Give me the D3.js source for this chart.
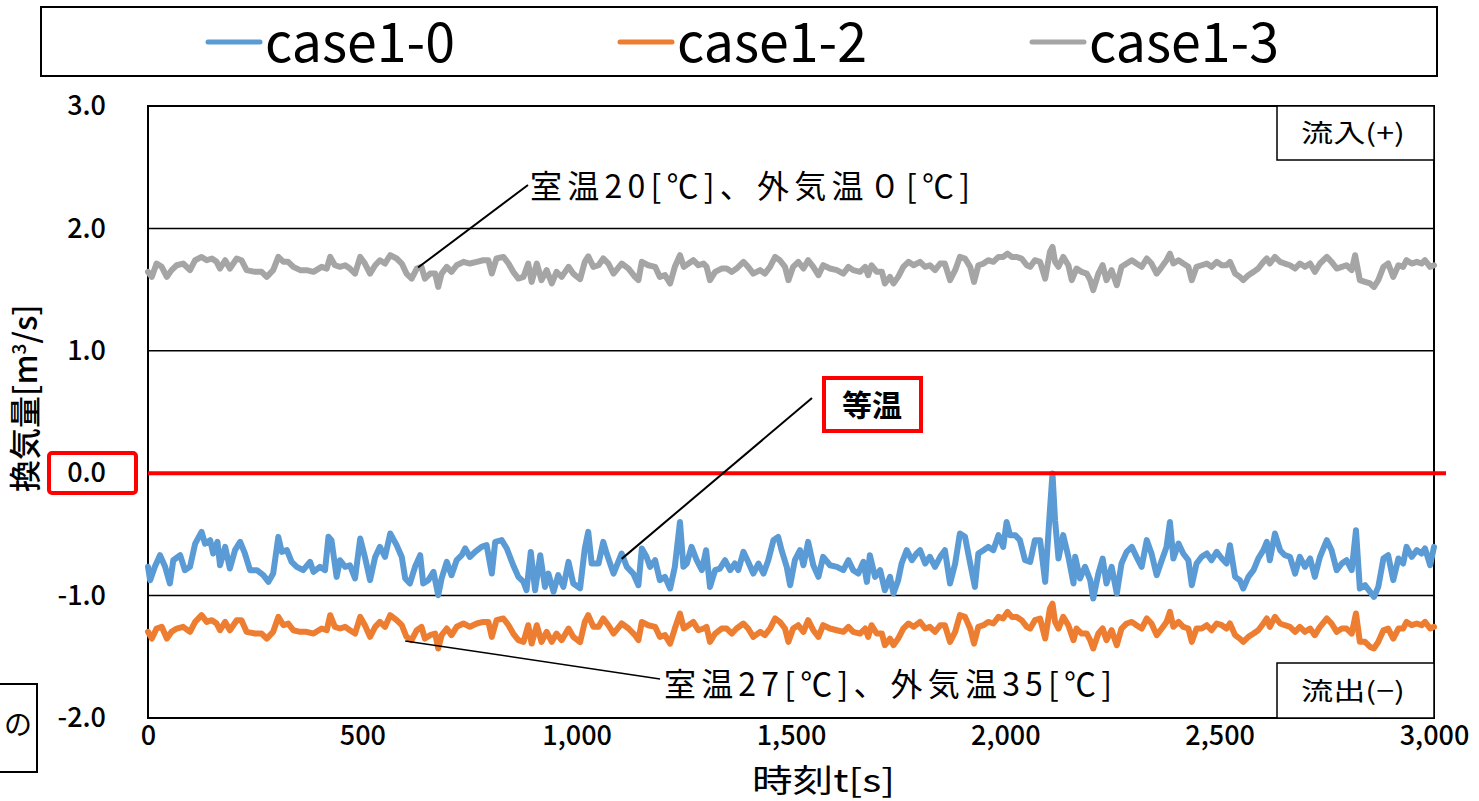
<!DOCTYPE html>
<html>
<head>
<meta charset="utf-8">
<script src="https://cdn.jsdelivr.net/npm/d3@7"></script>
<style>
  body { margin: 0; background: #fff; }
  text { font-family: "Noto Sans CJK JP", "Noto Sans", sans-serif; fill: #000; }
</style>
</head>
<body>
<div id="chart"></div>
<script>
// [time s, 換気量 m3/s]
var case10 = [[0,-0.765],[5,-0.874],[16,-0.765],[28,-0.670],[40,-0.765],[51,-0.901],[59,-0.711],[75,-0.670],[86,-0.792],[98,-0.765],[110,-0.575],[125,-0.479],[133,-0.575],[145,-0.547],[152,-0.656],[162,-0.561],[168,-0.752],[180,-0.602],[191,-0.779],[203,-0.629],[215,-0.561],[226,-0.656],[238,-0.792],[254,-0.792],[269,-0.833],[281,-0.888],[292,-0.820],[304,-0.520],[312,-0.643],[324,-0.629],[335,-0.724],[347,-0.765],[362,-0.792],[378,-0.724],[386,-0.806],[401,-0.765],[413,-0.792],[421,-0.520],[428,-0.547],[440,-0.847],[448,-0.711],[460,-0.765],[471,-0.752],[483,-0.860],[495,-0.534],[506,-0.684],[518,-0.874],[530,-0.684],[541,-0.602],[553,-0.684],[565,-0.493],[580,-0.588],[592,-0.684],[600,-0.860],[611,-0.901],[623,-0.765],[635,-0.670],[642,-0.901],[654,-0.874],[666,-0.806],[677,-0.997],[685,-0.860],[697,-0.724],[708,-0.833],[720,-0.711],[732,-0.670],[740,-0.615],[751,-0.684],[763,-0.643],[778,-0.602],[790,-0.588],[802,-0.820],[810,-0.561],[825,-0.547],[837,-0.615],[852,-0.752],[864,-0.847],[876,-0.888],[883,-0.956],[893,-0.643],[903,-0.956],[915,-0.670],[926,-0.929],[934,-0.820],[946,-0.969],[957,-0.833],[969,-0.929],[981,-0.724],[992,-0.901],[1008,-0.940],[1019,-0.615],[1027,-0.479],[1035,-0.738],[1051,-0.738],[1062,-0.561],[1070,-0.656],[1086,-0.820],[1105,-0.656],[1117,-0.765],[1132,-0.820],[1144,-0.915],[1152,-0.615],[1163,-0.683],[1171,-0.765],[1183,-0.711],[1194,-0.874],[1206,-0.847],[1218,-0.942],[1229,-0.765],[1241,-0.398],[1249,-0.765],[1257,-0.738],[1268,-0.602],[1280,-0.711],[1292,-0.792],[1302,-0.629],[1311,-0.929],[1323,-0.792],[1334,-0.779],[1346,-0.711],[1358,-0.792],[1369,-0.738],[1377,-0.792],[1389,-0.643],[1400,-0.724],[1412,-0.820],[1424,-0.738],[1436,-0.820],[1447,-0.711],[1459,-0.547],[1470,-0.520],[1478,-0.629],[1490,-0.765],[1498,-0.915],[1509,-0.711],[1521,-0.629],[1529,-0.752],[1540,-0.561],[1552,-0.752],[1564,-0.847],[1575,-0.683],[1591,-0.752],[1607,-0.765],[1622,-0.792],[1634,-0.711],[1645,-0.792],[1657,-0.820],[1669,-0.724],[1677,-0.888],[1684,-0.670],[1696,-0.847],[1708,-0.792],[1719,-0.956],[1731,-0.847],[1739,-0.983],[1750,-0.874],[1758,-0.738],[1770,-0.629],[1782,-0.711],[1793,-0.656],[1801,-0.629],[1813,-0.738],[1824,-0.683],[1836,-0.765],[1848,-0.683],[1859,-0.629],[1871,-0.901],[1883,-0.738],[1894,-0.493],[1906,-0.520],[1918,-0.738],[1929,-0.929],[1937,-0.656],[1949,-0.629],[1960,-0.602],[1972,-0.629],[1984,-0.506],[1995,-0.602],[2003,-0.398],[2011,-0.506],[2023,-0.506],[2034,-0.547],[2046,-0.711],[2058,-0.724],[2069,-0.547],[2081,-0.547],[2093,-0.888],[2104,-0.302],[2110,-0.003],[2116,-0.384],[2124,-0.697],[2135,-0.506],[2147,-0.683],[2159,-0.901],[2163,-0.683],[2174,-0.860],[2186,-0.765],[2198,-0.874],[2205,-1.024],[2217,-0.820],[2227,-0.697],[2236,-0.901],[2248,-0.765],[2260,-0.983],[2271,-0.738],[2283,-0.643],[2295,-0.602],[2306,-0.683],[2318,-0.765],[2330,-0.547],[2341,-0.656],[2353,-0.833],[2365,-0.711],[2376,-0.602],[2384,-0.398],[2392,-0.697],[2404,-0.575],[2415,-0.656],[2427,-0.711],[2435,-0.915],[2446,-0.738],[2458,-0.683],[2470,-0.656],[2481,-0.711],[2493,-0.643],[2505,-0.697],[2516,-0.738],[2524,-0.588],[2536,-0.847],[2547,-0.874],[2555,-0.942],[2567,-0.847],[2579,-0.792],[2590,-0.697],[2602,-0.629],[2610,-0.561],[2617,-0.711],[2629,-0.493],[2641,-0.629],[2652,-0.670],[2664,-0.683],[2676,-0.820],[2687,-0.683],[2699,-0.765],[2711,-0.697],[2722,-0.847],[2734,-0.683],[2750,-0.547],[2761,-0.629],[2773,-0.792],[2785,-0.738],[2796,-0.711],[2808,-0.792],[2818,-0.466],[2827,-0.942],[2839,-0.915],[2851,-0.969],[2860,-1.010],[2870,-0.929],[2882,-0.697],[2893,-0.670],[2905,-0.874],[2917,-0.697],[2928,-0.738],[2936,-0.602],[2948,-0.683],[2960,-0.629],[2971,-0.656],[2979,-0.615],[2991,-0.752],[3000,-0.602]];

var case12 = [[0,-1.296],[9,-1.351],[20,-1.269],[32,-1.255],[44,-1.351],[55,-1.296],[67,-1.269],[82,-1.255],[98,-1.296],[110,-1.215],[125,-1.160],[137,-1.215],[149,-1.201],[160,-1.228],[168,-1.283],[180,-1.215],[191,-1.283],[207,-1.201],[218,-1.201],[230,-1.296],[250,-1.310],[265,-1.310],[277,-1.351],[292,-1.296],[304,-1.174],[316,-1.242],[327,-1.228],[339,-1.283],[355,-1.296],[370,-1.296],[386,-1.310],[405,-1.269],[417,-1.283],[425,-1.160],[436,-1.255],[448,-1.269],[460,-1.255],[471,-1.283],[483,-1.310],[495,-1.174],[506,-1.242],[518,-1.337],[530,-1.255],[541,-1.215],[553,-1.255],[565,-1.160],[580,-1.201],[592,-1.242],[603,-1.337],[615,-1.364],[627,-1.283],[638,-1.255],[646,-1.351],[658,-1.323],[670,-1.310],[677,-1.432],[685,-1.323],[697,-1.269],[708,-1.323],[720,-1.255],[736,-1.228],[751,-1.255],[767,-1.228],[782,-1.215],[794,-1.215],[802,-1.337],[813,-1.201],[829,-1.187],[841,-1.242],[852,-1.310],[864,-1.364],[876,-1.378],[887,-1.242],[895,-1.392],[907,-1.242],[918,-1.378],[930,-1.296],[942,-1.378],[953,-1.310],[965,-1.364],[981,-1.269],[992,-1.337],[1008,-1.380],[1019,-1.215],[1027,-1.160],[1039,-1.255],[1051,-1.255],[1062,-1.187],[1074,-1.242],[1086,-1.310],[1105,-1.228],[1121,-1.269],[1136,-1.323],[1144,-1.364],[1152,-1.215],[1167,-1.242],[1183,-1.255],[1194,-1.337],[1206,-1.323],[1218,-1.392],[1229,-1.269],[1241,-1.146],[1250,-1.269],[1261,-1.242],[1272,-1.215],[1284,-1.283],[1296,-1.269],[1303,-1.255],[1311,-1.378],[1323,-1.310],[1338,-1.269],[1350,-1.269],[1362,-1.310],[1373,-1.269],[1389,-1.228],[1400,-1.269],[1412,-1.337],[1428,-1.296],[1439,-1.323],[1451,-1.269],[1463,-1.187],[1474,-1.215],[1486,-1.269],[1494,-1.378],[1505,-1.269],[1517,-1.242],[1529,-1.296],[1540,-1.201],[1552,-1.283],[1564,-1.337],[1575,-1.242],[1591,-1.269],[1607,-1.283],[1622,-1.296],[1634,-1.255],[1645,-1.296],[1661,-1.310],[1673,-1.269],[1680,-1.337],[1688,-1.242],[1700,-1.310],[1712,-1.310],[1719,-1.405],[1731,-1.351],[1739,-1.405],[1750,-1.351],[1762,-1.269],[1774,-1.228],[1786,-1.255],[1801,-1.215],[1813,-1.269],[1824,-1.255],[1836,-1.296],[1848,-1.242],[1859,-1.242],[1871,-1.378],[1883,-1.296],[1894,-1.160],[1906,-1.174],[1918,-1.269],[1927,-1.392],[1937,-1.255],[1949,-1.242],[1960,-1.215],[1972,-1.228],[1984,-1.174],[1995,-1.187],[2005,-1.133],[2015,-1.174],[2026,-1.174],[2038,-1.201],[2050,-1.255],[2058,-1.269],[2069,-1.201],[2081,-1.187],[2093,-1.351],[2104,-1.106],[2110,-1.065],[2116,-1.215],[2124,-1.269],[2135,-1.174],[2147,-1.242],[2159,-1.364],[2166,-1.269],[2178,-1.310],[2190,-1.310],[2198,-1.364],[2205,-1.432],[2217,-1.310],[2227,-1.269],[2236,-1.364],[2248,-1.283],[2260,-1.405],[2271,-1.269],[2283,-1.228],[2295,-1.215],[2306,-1.242],[2318,-1.269],[2330,-1.187],[2341,-1.228],[2353,-1.323],[2365,-1.269],[2376,-1.215],[2384,-1.133],[2392,-1.255],[2404,-1.215],[2415,-1.255],[2427,-1.269],[2435,-1.378],[2446,-1.269],[2458,-1.269],[2470,-1.242],[2481,-1.283],[2493,-1.228],[2505,-1.242],[2516,-1.269],[2524,-1.228],[2536,-1.323],[2547,-1.351],[2555,-1.378],[2567,-1.337],[2579,-1.310],[2590,-1.283],[2602,-1.228],[2610,-1.187],[2617,-1.255],[2629,-1.174],[2641,-1.228],[2652,-1.242],[2664,-1.255],[2676,-1.296],[2687,-1.255],[2699,-1.296],[2711,-1.269],[2722,-1.323],[2734,-1.255],[2750,-1.187],[2761,-1.228],[2773,-1.296],[2785,-1.269],[2796,-1.269],[2808,-1.310],[2818,-1.146],[2827,-1.378],[2839,-1.378],[2851,-1.419],[2860,-1.432],[2870,-1.378],[2882,-1.283],[2893,-1.269],[2905,-1.351],[2917,-1.269],[2928,-1.269],[2936,-1.215],[2948,-1.242],[2960,-1.228],[2971,-1.242],[2979,-1.215],[2991,-1.269],[3000,-1.255]];

var case13 = [[0,1.645],[9,1.604],[20,1.713],[32,1.686],[44,1.604],[55,1.659],[67,1.699],[82,1.713],[98,1.659],[110,1.740],[125,1.767],[137,1.740],[149,1.754],[160,1.727],[168,1.672],[180,1.740],[191,1.672],[207,1.754],[218,1.740],[230,1.659],[250,1.645],[265,1.645],[277,1.604],[292,1.659],[304,1.767],[316,1.727],[327,1.727],[339,1.686],[355,1.659],[370,1.659],[386,1.645],[405,1.686],[417,1.672],[425,1.767],[436,1.699],[448,1.686],[460,1.699],[471,1.672],[483,1.631],[495,1.767],[506,1.713],[518,1.631],[530,1.699],[541,1.740],[553,1.713],[565,1.781],[580,1.754],[592,1.713],[603,1.631],[615,1.590],[627,1.672],[638,1.686],[646,1.590],[658,1.631],[670,1.631],[677,1.522],[685,1.631],[697,1.686],[708,1.645],[720,1.699],[736,1.727],[751,1.713],[767,1.727],[782,1.740],[794,1.740],[802,1.631],[813,1.754],[829,1.767],[841,1.713],[852,1.645],[864,1.590],[876,1.604],[887,1.713],[895,1.563],[907,1.713],[918,1.577],[930,1.659],[942,1.550],[953,1.645],[965,1.604],[981,1.686],[992,1.631],[1008,1.585],[1019,1.727],[1027,1.772],[1039,1.686],[1051,1.699],[1062,1.754],[1074,1.713],[1086,1.631],[1105,1.713],[1121,1.672],[1136,1.604],[1144,1.577],[1152,1.727],[1167,1.699],[1183,1.686],[1194,1.604],[1206,1.618],[1218,1.550],[1229,1.686],[1241,1.781],[1250,1.686],[1261,1.713],[1272,1.740],[1284,1.699],[1296,1.713],[1303,1.686],[1311,1.577],[1323,1.645],[1338,1.672],[1350,1.672],[1362,1.645],[1373,1.672],[1389,1.727],[1400,1.686],[1412,1.631],[1428,1.659],[1439,1.631],[1451,1.686],[1463,1.767],[1474,1.740],[1486,1.686],[1494,1.577],[1505,1.686],[1517,1.727],[1529,1.672],[1540,1.740],[1552,1.686],[1564,1.618],[1575,1.699],[1591,1.672],[1607,1.659],[1622,1.631],[1634,1.686],[1645,1.659],[1661,1.645],[1673,1.686],[1680,1.618],[1688,1.699],[1700,1.645],[1712,1.645],[1719,1.550],[1731,1.604],[1739,1.550],[1750,1.604],[1762,1.686],[1774,1.727],[1786,1.699],[1801,1.727],[1813,1.686],[1824,1.699],[1836,1.659],[1848,1.713],[1859,1.713],[1871,1.577],[1883,1.659],[1894,1.767],[1906,1.754],[1918,1.686],[1927,1.563],[1937,1.699],[1949,1.713],[1960,1.740],[1972,1.727],[1984,1.767],[1995,1.767],[2005,1.794],[2015,1.767],[2026,1.767],[2038,1.754],[2050,1.699],[2058,1.686],[2069,1.740],[2081,1.727],[2093,1.590],[2104,1.808],[2110,1.849],[2116,1.727],[2124,1.686],[2135,1.767],[2147,1.699],[2155,1.577],[2166,1.672],[2178,1.645],[2190,1.631],[2198,1.577],[2205,1.495],[2217,1.631],[2227,1.699],[2236,1.577],[2248,1.659],[2260,1.536],[2271,1.686],[2283,1.713],[2295,1.740],[2306,1.713],[2318,1.686],[2330,1.754],[2341,1.713],[2353,1.631],[2365,1.686],[2376,1.740],[2384,1.794],[2392,1.713],[2404,1.740],[2415,1.713],[2427,1.686],[2435,1.577],[2446,1.686],[2458,1.699],[2470,1.713],[2481,1.686],[2493,1.727],[2505,1.699],[2516,1.699],[2524,1.727],[2536,1.631],[2547,1.604],[2555,1.577],[2567,1.618],[2579,1.645],[2590,1.672],[2602,1.727],[2610,1.754],[2617,1.713],[2629,1.767],[2641,1.727],[2652,1.713],[2664,1.699],[2676,1.672],[2687,1.713],[2699,1.686],[2711,1.713],[2722,1.645],[2734,1.713],[2750,1.767],[2761,1.727],[2773,1.672],[2785,1.686],[2796,1.699],[2808,1.659],[2816,1.781],[2827,1.577],[2839,1.563],[2851,1.550],[2860,1.522],[2870,1.577],[2882,1.686],[2893,1.713],[2905,1.604],[2917,1.699],[2928,1.686],[2936,1.740],[2948,1.713],[2960,1.727],[2971,1.713],[2979,1.740],[2991,1.686],[3000,1.699]];

var seriesNames = ["case1-0", "case1-2", "case1-3"];
var seriesColors = ["#5b9bd5", "#ed7d31", "#a5a5a5"];
var xTicks = [0, 500, 1000, 1500, 2000, 2500, 3000];
var yTicks = [-2, -1, 0, 1, 2, 3];

var W = 1479, H = 801;
var svg = d3.select("#chart").append("svg")
    .attr("width", W)
    .attr("height", H);

var x = d3.scaleLinear().domain([0, 3000]).range([148, 1434]);
var y = d3.scaleLinear().domain([-2, 3]).range([718, 106]);

// legend box
svg.append("rect")
    .attr("x", 41).attr("y", 7).attr("width", 1396).attr("height", 69)
    .attr("fill", "#fff").attr("stroke", "#000").attr("stroke-width", 2);

var legX = [208, 620, 1032];
seriesNames.forEach(function(name, i) {
  svg.append("line")
      .attr("x1", legX[i]).attr("x2", legX[i] + 52)
      .attr("y1", 42).attr("y2", 42)
      .attr("stroke", seriesColors[i]).attr("stroke-width", 5)
      .attr("stroke-linecap", "round");
  svg.append("text")
      .attr("x", legX[i] + 57).attr("y", 62)
      .attr("font-size", 54)
      .attr("textLength", 190).attr("lengthAdjust", "spacingAndGlyphs")
      .text(name);
});

// grid lines (not 0 and borders)
svg.append("g").selectAll("line")
    .data(yTicks.filter(function(d) { return d === 1 || d === 2 || d === -1; }))
    .join("line")
    .attr("x1", x(0)).attr("x2", x(3000))
    .attr("y1", function(d) { return y(d); })
    .attr("y2", function(d) { return y(d); })
    .attr("stroke", "#000").attr("stroke-width", 1.5);

// plot border
svg.append("rect")
    .attr("x", x(0)).attr("y", y(3))
    .attr("width", x(3000) - x(0)).attr("height", y(-2) - y(3))
    .attr("fill", "none").attr("stroke", "#000").attr("stroke-width", 2);

// x axis labels
var xAxis = d3.axisBottom(x).tickValues(xTicks).tickSize(0).tickPadding(8)
    .tickFormat(d3.format(","));
var gx = svg.append("g").attr("transform", "translate(0," + y(-2) + ")").call(xAxis);
gx.select(".domain").remove();
gx.selectAll("text")
    .attr("font-size", 27)
    .attr("font-weight", 500)
    .style("font-family", "'Noto Sans CJK JP', sans-serif")
    .attr("fill", "#000");

// y axis labels
var yAxis = d3.axisLeft(y).tickValues(yTicks).tickSize(0).tickPadding(42)
    .tickFormat(function(d) { return d3.format(".1f")(d).replace("−", "-"); });
var gy = svg.append("g").attr("transform", "translate(" + x(0) + ",0)").call(yAxis);
gy.select(".domain").remove();
gy.selectAll("text")
    .attr("font-size", 27)
    .attr("font-weight", 500)
    .style("font-family", "'Noto Sans CJK JP', sans-serif")
    .attr("fill", "#000");

// series lines
var line = d3.line()
    .x(function(d) { return x(d[0]); })
    .y(function(d) { return y(d[1]); });

[case13, case12, case10].forEach(function(s, k) {
  var i = 2 - k;
  svg.append("path")
      .datum(s)
      .attr("d", line)
      .attr("fill", "none")
      .attr("stroke", seriesColors[i])
      .attr("stroke-width", 6)
      .attr("stroke-linejoin", "round")
      .attr("stroke-linecap", "round");
});

// red zero line
svg.append("line")
    .attr("x1", x(0)).attr("x2", 1446)
    .attr("y1", y(0)).attr("y2", y(0))
    .attr("stroke", "#ff0000").attr("stroke-width", 4);

// red box around 0.0 label
svg.append("rect")
    .attr("x", 49).attr("y", 453).attr("width", 87).attr("height", 40)
    .attr("rx", 3)
    .attr("fill", "none").attr("stroke", "#ff0000").attr("stroke-width", 4);

// axis titles
svg.append("text")
    .attr("x", 752).attr("y", 792)
    .attr("font-size", 32)
    .attr("textLength", 143).attr("lengthAdjust", "spacingAndGlyphs")
    .text("時刻t[s]");

svg.append("text")
    .attr("transform", "translate(37,492) rotate(-90)")
    .attr("font-size", 32)
    .attr("font-weight", 500)
    .html("換気量[m<tspan dy='-11' font-size='19'>3</tspan><tspan dy='11'>/s]</tspan>");

// inflow / outflow boxes
var boxes = [{ t: "流入(+)", y0: 106, y1: 160 }, { t: "流出(−)", y0: 663, y1: 718 }];
boxes.forEach(function(b) {
  svg.append("rect")
      .attr("x", 1277).attr("y", b.y0).attr("width", 157).attr("height", b.y1 - b.y0)
      .attr("fill", "#fff").attr("stroke", "#000").attr("stroke-width", 1.5);
  svg.append("text")
      .attr("x", 1301).attr("y", (b.y0 + b.y1) / 2 + 9)
      .attr("font-size", 25)
      .attr("textLength", 104).attr("lengthAdjust", "spacingAndGlyphs")
      .text(b.t);
});

// annotations
svg.append("line")
    .attr("x1", 528).attr("y1", 185).attr("x2", x(630)).attr("y2", y(1.68))
    .attr("stroke", "#000").attr("stroke-width", 2);
svg.append("text")
    .attr("x", 530).attr("y", 198)
    .attr("font-size", 32)
    .attr("textLength", 440).attr("lengthAdjust", "spacing")
    .text("室温20[℃]、外気温０[℃]");

svg.append("line")
    .attr("x1", 812).attr("y1", 398).attr("x2", x(1105)).attr("y2", y(-0.7))
    .attr("stroke", "#000").attr("stroke-width", 2);
svg.append("rect")
    .attr("x", 824).attr("y", 378).attr("width", 97).attr("height", 53)
    .attr("fill", "#fff").attr("stroke", "#ff0000").attr("stroke-width", 4);
svg.append("text")
    .attr("x", 872).attr("y", 416)
    .attr("text-anchor", "middle")
    .attr("font-size", 30)
    .attr("font-weight", 700)
    .text("等温");

svg.append("line")
    .attr("x1", 660).attr("y1", 679).attr("x2", x(600)).attr("y2", y(-1.37))
    .attr("stroke", "#000").attr("stroke-width", 1.5);
svg.append("text")
    .attr("x", 664).attr("y", 696)
    .attr("font-size", 32)
    .attr("textLength", 448).attr("lengthAdjust", "spacing")
    .text("室温27[℃]、外気温35[℃]");

// cut-off box at lower left
svg.append("rect")
    .attr("x", -2).attr("y", 684).attr("width", 39).attr("height", 88)
    .attr("fill", "none").attr("stroke", "#000").attr("stroke-width", 2);
svg.append("text")
    .attr("x", 18).attr("y", 735)
    .attr("text-anchor", "middle")
    .attr("font-size", 28)
    .text("の");
</script>
</body>
</html>
